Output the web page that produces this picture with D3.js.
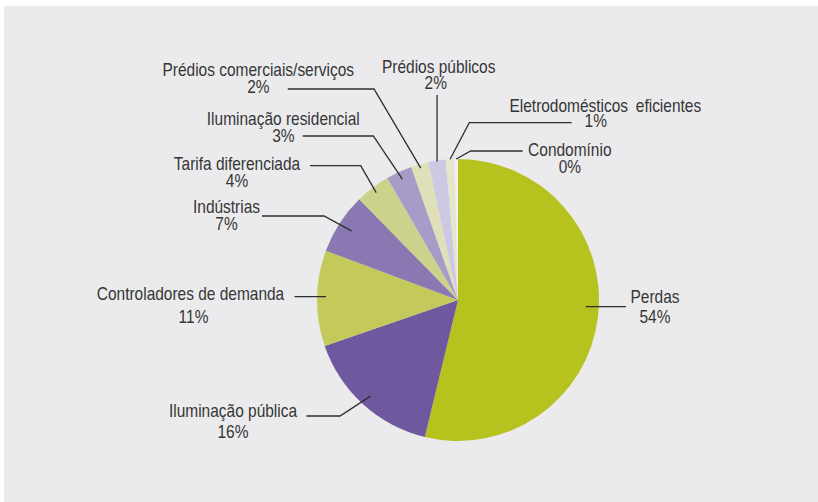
<!DOCTYPE html>
<html>
<head>
<meta charset="utf-8">
<script src="https://cdn.jsdelivr.net/npm/d3@7"></script>
<style>
  html, body { margin: 0; padding: 0; background: #ffffff; }
  svg { display: block; }
  .lbl { font-family: "Liberation Sans", Arial, sans-serif; font-size: 18px; fill: #363636; }
</style>
</head>
<body>
<svg id="chart" width="818" height="502"></svg>
<script>
// Shares of potential energy savings by segment (%)
const categories = [
  "Perdas",
  "Iluminação pública",
  "Controladores de demanda",
  "Indústrias",
  "Tarifa diferenciada",
  "Iluminação residencial",
  "Prédios comerciais/serviços",
  "Prédios públicos",
  "Eletrodomésticos eficientes",
  "Condomínio"
];
const shares = [54, 16, 11, 7, 4, 3, 2, 2, 1, 0.4];
const sliceColors = [
  "#b6c21e", "#6f599e", "#c3c95b", "#8a78b2", "#ccd28b",
  "#a89bc8", "#dfe0b9", "#cdc9e2", "#e5e6cc", "#f0f0f4"
];

// Label placement: text centre/baseline, line spacing, leader geometry
// mode "h" = horizontal leader into the slice, "v" = vertical, "e" = elbow
const labelLayout = [
  { tx: 655,   ty: 303,   lh: 20,   ly: 306.7, lx: 626,   mode: "h", rr: 128 },
  { tx: 233,   ty: 417,   lh: 21.5, ly: 416,   lx: 306.5, ex: 340,   mode: "e", rr: 130 },
  { tx: 190.5, ty: 300,   lh: 23,   ly: 296.7, lx: 294.5, mode: "h", rr: 132, dx2: 3 },
  { tx: 226.5, ty: 212.5, lh: 17.5, ly: 216,   lx: 262,   ex: 324,   mode: "e", rr: 127 },
  { tx: 237,   ty: 169.5, lh: 18,   ly: 165.7, lx: 310,   ex: 360.7, mode: "e", rr: 135 },
  { tx: 283.3, ty: 125,   lh: 16.7, ly: 136,   lx: 302.7, ex: 373.3, mode: "e", rr: 133 },
  { tx: 258.3, ty: 76,    lh: 16.7, ly: 89,    lx: 287.7, ex: 374,   mode: "e", rr: 137 },
  { tx: 438.7, ty: 73,    lh: 16,   ly: 95,    mode: "v", rr: 140, dx2: -3 },
  { tx: 605.3, ty: 111.7, lh: 15,   ly: 122.7, lx: 571.7, ex: 469.3, mode: "e", rr: 141, dx2: -9.6, ws: 4 },
  { tx: 569.8, ty: 156,   lh: 17.3, ly: 151,   lx: 522.7, ex: 470.7, mode: "e", rr: 141 }
];

const W = 818, H = 502;
const cx = 458, cy = 300, radius = 141;
const squeeze = 0.86; // horizontal condensing of label type

const svg = d3.select("#chart");

// panel background
svg.append("rect")
  .attr("x", 4).attr("y", 6)
  .attr("width", W - 4).attr("height", H - 6)
  .attr("fill", "#ebebed");

const g = svg.append("g").attr("transform", `translate(${cx},${cy})`);

const pie = d3.pie().sort(null).value(d => d)
  .startAngle(0).endAngle(2 * Math.PI);
const arcs = pie(shares);

const arc = d3.arc().innerRadius(0).outerRadius(radius);

g.selectAll("path.slice")
  .data(arcs)
  .join("path")
  .attr("class", "slice")
  .attr("d", arc)
  .attr("fill", (d, i) => sliceColors[i]);

// point on the pie at a given angle (d3 convention: 0 at top, clockwise)
const polar = (a, r) => [Math.sin(a) * r, -Math.cos(a) * r];

const leaders = arcs.map((d, i) => {
  const L = labelLayout[i];
  const mid = (d.startAngle + d.endAngle) / 2;
  const ly = L.ly - cy;
  if (L.mode === "h") {
    const side = Math.sin(mid) >= 0 ? 1 : -1;
    const x = side * Math.sqrt(L.rr * L.rr - ly * ly);
    return [[L.lx - cx, ly], [x, ly]];
  }
  const end = polar(mid, L.rr);
  if (L.mode === "v") {
    return [[end[0], ly], end];
  }
  return [[L.lx - cx, ly], [L.ex - cx, ly], end];
});

const line = d3.line();
g.selectAll("path.leader")
  .data(leaders)
  .join("path")
  .attr("class", "leader")
  .attr("d", line)
  .attr("fill", "none")
  .attr("stroke", "#2e2e2e")
  .attr("stroke-width", 1.3);

// labels: name on the first line, rounded share on the second
const labels = svg.selectAll("text.lbl")
  .data(categories)
  .join("text")
  .attr("class", "lbl")
  .attr("text-anchor", "middle")
  .attr("transform", (d, i) => `translate(${labelLayout[i].tx},${labelLayout[i].ty}) scale(${squeeze},1)`)
  .style("word-spacing", (d, i) => (labelLayout[i].ws || 0) + "px");

labels.append("tspan")
  .attr("x", 0)
  .attr("y", 0)
  .text(d => d);

labels.append("tspan")
  .attr("x", (d, i) => (labelLayout[i].dx2 || 0) / squeeze)
  .attr("y", (d, i) => labelLayout[i].lh)
  .text((d, i) => Math.round(shares[i]) + "%");
</script>
</body>
</html>
